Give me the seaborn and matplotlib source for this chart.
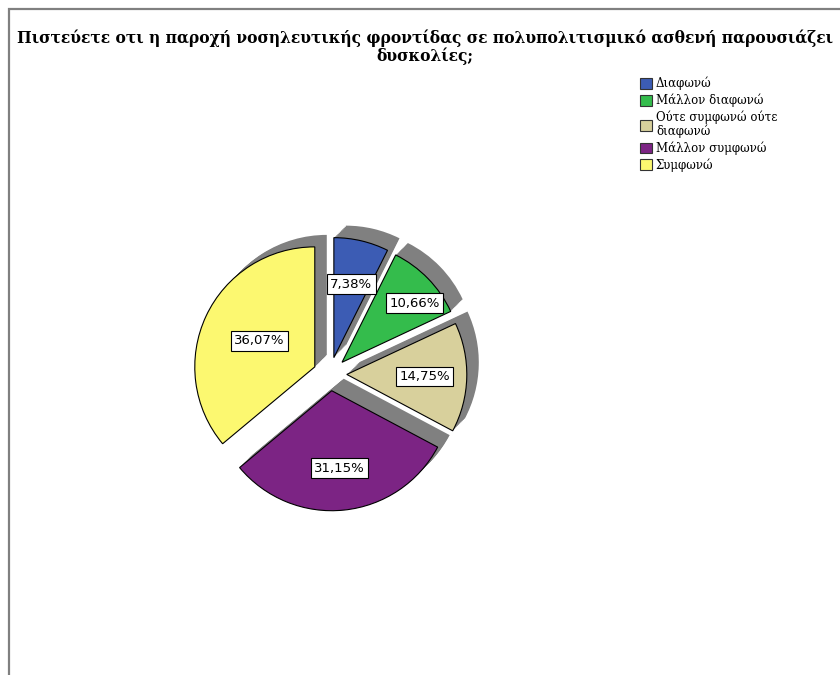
import numpy as np
import matplotlib
matplotlib.use("Agg")
import matplotlib.pyplot as plt
import seaborn as sns
from matplotlib.patches import Patch, Rectangle

# δεδομένα (122 απαντήσεις)
categories = ["Διαφωνώ", "Μάλλον διαφωνώ", "Ούτε συμφωνώ ούτε\nδιαφωνώ",
              "Μάλλον συμφωνώ", "Συμφωνώ"]
counts = [9, 13, 18, 38, 44]
colors = ["#3c5cb4", "#34bc4c", "#d8d09c", "#7c2484", "#fcf870"]
title = ("Πιστεύετε οτι η παροχή νοσηλευτικής φροντίδας σε πολυπολιτισμικό ασθενή παρουσιάζει\n"
         "δυσκολίες;")

sns.set_style("white")
plt.rcParams['font.family'] = ['DejaVu Sans']
plt.rcParams['text.color'] = 'black'

W, H = 840, 675
fig = plt.figure(figsize=(W / 100, H / 100), dpi=100)

# πλαίσιο γύρω από το γράφημα
fig.patches.append(Rectangle((9 / W, -0.1), 2, 1 - 9 / H + 0.1, transform=fig.transFigure,
                             fill=False, edgecolor="#808080", linewidth=1.6))

fig.text(425 / W, 1 - 47 / H, title, ha='center', va='center', multialignment='center',
         fontsize=11.2, fontweight='bold', family=['DejaVu Serif'],
         linespacing=1.05, color='black')

# άξονας για την πίτα: κέντρο (330,374), ακτίνα 120 px
cx, cy, half = 330, 374, 180
ax = fig.add_axes([(cx - half) / W, (H - cy - half) / H, 2 * half / W, 2 * half / H])

explode = [0.14] * len(counts)

# "τρισδιάστατη" σκιά προς τα πάνω δεξιά
for t in np.linspace(0.1, 1.0, 10):
    ax.pie(counts, explode=explode, startangle=90, counterclock=False,
           colors=["#808080"] * len(counts), center=(0.1 * t, 0.1 * t),
           wedgeprops=dict(linewidth=0), frame=False)

wedges, _ = ax.pie(counts, explode=explode, startangle=90, counterclock=False,
                   colors=colors, wedgeprops=dict(edgecolor="black", linewidth=0.8),
                   frame=False)

total = sum(counts)
label_r = [0.63, 0.78, 0.65, 0.65, 0.51]
label_shift = [0, -5, 0, 0, 0]
for w, c, r, s in zip(wedges, counts, label_r, label_shift):
    mid = np.deg2rad((w.theta1 + w.theta2) / 2 + s)
    x0, y0 = w.center
    pct = f"{100 * c / total:.2f}".replace(".", ",") + "%"
    ax.text(x0 + r * np.cos(mid), y0 + r * np.sin(mid), pct, ha='center', va='center',
            fontsize=9.5, family='DejaVu Sans', color='black',
            bbox=dict(boxstyle='square,pad=0.25', facecolor='white', edgecolor='black',
                      linewidth=0.8))

ax.set_xlim(-1.5, 1.5)
ax.set_ylim(-1.5, 1.5)
ax.set_aspect('equal')
ax.axis('off')

handles = [Patch(facecolor=col, edgecolor="#333333", linewidth=0.8) for col in colors]
leg = fig.legend(handles, categories, loc='upper left', bbox_to_anchor=(640 / W, 1 - 77 / H),
                 frameon=False, prop=dict(family=['DejaVu Serif'], size=8.5),
                 handlelength=1.0, handleheight=1.0, handletextpad=0.35, labelspacing=0.28,
                 borderaxespad=0, borderpad=0)
for t in leg.get_texts():
    t.set_color('black')
    t.set_linespacing(1.05)

fig.savefig("out.png", dpi=100)
